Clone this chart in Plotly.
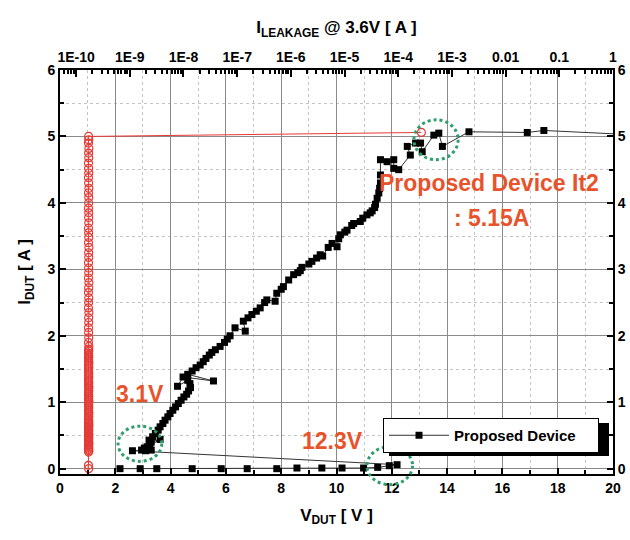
import plotly.graph_objects as go

# ---- data: TLP I-V of the proposed device (bottom V axis) ----
v_dut = [2.17, 2.90, 3.50, 4.78, 5.83, 6.77, 7.84, 8.57, 9.47, 10.20,
         10.98, 11.49, 11.91, 12.19, 2.62, 2.95, 3.10, 3.20, 3.30, 3.05,
         3.15, 3.25, 3.62, 3.30, 3.22, 3.35, 3.45, 3.55, 3.62, 3.72,
         3.80, 3.90, 3.98, 4.08, 4.18, 4.28, 4.38, 4.48, 4.58, 4.65,
         4.72, 4.70, 4.62, 4.25, 4.45, 5.55, 4.62, 4.78, 4.92, 5.07,
         5.18, 5.28, 5.40, 5.49, 5.62, 5.79, 5.95, 6.05, 6.15, 6.33,
         6.70, 6.63, 6.80, 6.94, 7.10, 7.24, 7.40, 7.48, 7.78, 7.84,
         8.00, 8.08, 8.27, 8.45, 8.60, 8.69, 8.75, 9.00, 9.11, 9.28,
         9.41, 9.50, 9.70, 9.84, 10.02, 10.08, 10.14, 10.30, 10.38, 10.55,
         10.62, 10.86, 10.95, 11.10, 11.22, 11.29, 11.38, 11.41, 11.47, 11.53,
         11.56, 11.59, 11.59, 11.59, 11.83, 12.07, 12.07, 12.25, 12.67, 12.56,
         12.86, 13.04, 13.10, 13.52, 13.70, 13.83, 14.79, 16.90, 17.50, 21.00]
i_dut = [0.00, 0.00, 0.00, 0.00, 0.00, 0.00, 0.00, 0.01, 0.01, 0.01,
         0.01, 0.02, 0.045, 0.06, 0.27, 0.28, 0.27, 0.29, 0.28, 0.31,
         0.33, 0.35, 0.44, 0.40, 0.43, 0.48, 0.53, 0.58, 0.63, 0.68,
         0.73, 0.78, 0.83, 0.88, 0.93, 0.98, 1.03, 1.08, 1.12, 1.17,
         1.22, 1.28, 1.33, 1.24, 1.38, 1.32, 1.42, 1.47, 1.52, 1.56,
         1.61, 1.66, 1.71, 1.75, 1.79, 1.84, 1.90, 1.95, 2.00, 2.12,
         2.07, 2.22, 2.27, 2.32, 2.37, 2.42, 2.50, 2.54, 2.52, 2.64,
         2.70, 2.74, 2.84, 2.92, 2.95, 2.98, 3.03, 3.08, 3.12, 3.17,
         3.22, 3.20, 3.33, 3.39, 3.34, 3.46, 3.52, 3.56, 3.59, 3.66,
         3.69, 3.72, 3.77, 3.82, 3.85, 3.88, 3.93, 3.98, 4.07, 4.15,
         4.22, 4.30, 4.42, 4.65, 4.62, 4.65, 4.52, 4.50, 4.72, 4.85,
         4.90, 4.90, 4.77, 5.02, 5.05, 4.85, 5.07, 5.06, 5.09, 5.02]

# ---- data: leakage current at 3.6 V after each pulse (top log axis) ----
leak_i = [0.00, 0.05, 0.25, 0.27, 0.29, 0.31, 0.33, 0.35, 0.37, 0.39,
          0.41, 0.43, 0.45, 0.47, 0.49, 0.51, 0.53, 0.55, 0.57, 0.59,
          0.61, 0.63, 0.65, 0.67, 0.69, 0.71, 0.73, 0.75, 0.78, 0.81,
          0.84, 0.87, 0.90, 0.93, 0.96, 0.99, 1.02, 1.05, 1.08, 1.11,
          1.14, 1.17, 1.20, 1.23, 1.26, 1.29, 1.32, 1.35, 1.38, 1.41,
          1.44, 1.47, 1.50, 1.53, 1.56, 1.59, 1.62, 1.65, 1.68, 1.71,
          1.74, 1.77, 1.80, 1.84, 1.90, 1.97, 2.05, 2.12, 2.20, 2.27,
          2.35, 2.42, 2.50, 2.57, 2.65, 2.72, 2.80, 2.87, 2.95, 3.02,
          3.10, 3.18, 3.25, 3.33, 3.40, 3.48, 3.55, 3.62, 3.70, 3.78,
          3.85, 3.92, 4.00, 4.08, 4.15, 4.22, 4.30, 4.38, 4.45, 4.52,
          4.60, 4.68, 4.75, 4.82, 4.90, 4.95, 5.00, 5.06]
leak_a = [1.72e-10, 1.70e-10, 1.71e-10, 1.73e-10, 1.70e-10, 1.72e-10, 1.71e-10, 1.70e-10, 1.73e-10, 1.71e-10,
          1.72e-10, 1.70e-10, 1.71e-10, 1.72e-10, 1.70e-10, 1.73e-10, 1.71e-10, 1.70e-10, 1.72e-10, 1.71e-10,
          1.70e-10, 1.72e-10, 1.71e-10, 1.73e-10, 1.70e-10, 1.72e-10, 1.71e-10, 1.70e-10, 1.72e-10, 1.71e-10,
          1.73e-10, 1.70e-10, 1.71e-10, 1.72e-10, 1.70e-10, 1.71e-10, 1.73e-10, 1.70e-10, 1.72e-10, 1.71e-10,
          1.70e-10, 1.72e-10, 1.71e-10, 1.73e-10, 1.70e-10, 1.72e-10, 1.71e-10, 1.70e-10, 1.72e-10, 1.71e-10,
          1.72e-10, 1.70e-10, 1.71e-10, 1.72e-10, 1.70e-10, 1.73e-10, 1.71e-10, 1.70e-10, 1.72e-10, 1.71e-10,
          1.70e-10, 1.72e-10, 1.71e-10, 1.73e-10, 1.70e-10, 1.72e-10, 1.71e-10, 1.70e-10, 1.72e-10, 1.71e-10,
          1.73e-10, 1.70e-10, 1.71e-10, 1.72e-10, 1.70e-10, 1.71e-10, 1.73e-10, 1.70e-10, 1.72e-10, 1.71e-10,
          1.70e-10, 1.72e-10, 1.71e-10, 1.73e-10, 1.70e-10, 1.72e-10, 1.71e-10, 1.70e-10, 1.72e-10, 1.71e-10,
          1.72e-10, 1.70e-10, 1.71e-10, 1.72e-10, 1.70e-10, 1.73e-10, 1.71e-10, 1.70e-10, 1.72e-10, 1.71e-10,
          1.70e-10, 1.72e-10, 1.71e-10, 1.73e-10, 1.70e-10, 1.72e-10, 1.71e-10, 2.70e-4]

top_tickvals = [1e-10, 1e-9, 1e-8, 1e-7, 1e-6, 1e-5, 1e-4, 1e-3, 1e-2, 1e-1, 1]
top_ticktext = ["1E-10", "1E-9", "1E-8", "1E-7", "1E-6", "1E-5", "1E-4", "1E-3", "0.01", "0.1", "1"]

X_RANGE = [0, 20]
Y_RANGE = [-0.08, 6.0]
LOG_RANGE = [-10.3, 0]

FONT = "Liberation Sans"
ORANGE = "#E8532B"
GREEN = "#2E9E6B"
RED = "#E53A35"

# plot-area geometry in pixels (used for paper-coordinate decorations)
W, H = 630, 540
ML, MR, MT, MB = 60, 17, 70, 66
PW, PH = W - ML - MR, H - MT - MB

fig = go.Figure()
fig.add_trace(go.Scatter(
    x=v_dut, y=i_dut, mode="lines+markers", name="Proposed Device\u00a0\u00a0\u00a0\u00a0",
    line=dict(color="#333333", width=1),
    marker=dict(symbol="square", size=7, color="black"),
    xaxis="x", yaxis="y", cliponaxis=True,
))
fig.add_trace(go.Scatter(
    x=leak_a, y=leak_i, mode="lines+markers", name="Leakage", showlegend=False,
    line=dict(color=RED, width=1),
    marker=dict(symbol="circle-open", size=8, color=RED, line=dict(width=1.2)),
    xaxis="x2", yaxis="y2",
))

minor_log = [m * 10.0 ** e for e in range(-11, 0) for m in range(2, 10)]

axis_common = dict(showline=True, linewidth=2, linecolor="black", mirror=False,
                   ticks="inside", tickcolor="black", tickwidth=1.5, zeroline=False,
                   automargin=False,
                   tickfont=dict(family=FONT, size=14, color="black", weight="bold"))
title_font = dict(family=FONT, size=17, color="black", weight="bold")

fig.update_layout(
    width=W, height=H,
    margin=dict(l=ML, r=MR, t=MT, b=MB),
    paper_bgcolor="white", plot_bgcolor="white",
    font=dict(family=FONT, color="black"),
    xaxis=dict(range=X_RANGE, dtick=2, tick0=0, ticklen=6,
               showgrid=True, gridcolor="#8a8a8a", gridwidth=1,
               minor=dict(dtick=1, ticks="inside", ticklen=4, tickcolor="black",
                          showgrid=True, gridcolor="#c4c4c4", griddash="dot"),
               title=dict(text="V<sub>DUT</sub> [ V ]", standoff=14, font=title_font),
               **axis_common),
    xaxis2=dict(type="log", range=LOG_RANGE, overlaying="x", side="top",
                tickvals=top_tickvals, ticktext=top_ticktext, ticklen=7,
                showgrid=False,
                minor=dict(tickvals=minor_log, ticks="inside", ticklen=4, tickcolor="black", showgrid=False),
                title=dict(text="I<sub>LEAKAGE</sub> @ 3.6V [ A ]", standoff=11, font=title_font),
                **axis_common),
    yaxis=dict(range=Y_RANGE, dtick=1, tick0=0, ticklen=6,
               showgrid=True, gridcolor="#8a8a8a", gridwidth=1,
               minor=dict(dtick=0.5, ticks="inside", ticklen=4, tickcolor="black",
                          showgrid=True, gridcolor="#c4c4c4", griddash="dot"),
               title=dict(text="I<sub>DUT</sub> [ A ]", standoff=12, font=title_font),
               **axis_common),
    yaxis2=dict(range=Y_RANGE, overlaying="y", side="right", dtick=1, tick0=0, ticklen=6,
                showgrid=False,
                minor=dict(dtick=0.5, ticks="inside", ticklen=4, tickcolor="black", showgrid=False),
                **axis_common),
    legend=dict(x=(383 - ML) / PW, y=(H - MB - 418) / PH, xanchor="left", yanchor="top",
                bgcolor="white", bordercolor="black", borderwidth=1,
                itemwidth=60,
                font=dict(family=FONT, size=15, color="black", weight="bold")),
    showlegend=True,
)


def px(v):
    return (v - X_RANGE[0]) / (X_RANGE[1] - X_RANGE[0])


def py(i):
    return (i - Y_RANGE[0]) / (Y_RANGE[1] - Y_RANGE[0])


# highlight circles (green dotted)
circles = [((2.10, 3.68), (0.11, 0.64)),
           ((11.10, 12.75), (-0.24, 0.33)),
           ((12.80, 14.40), (4.65, 5.25))]
shapes = []
for (xa, xb), (ya, yb) in circles:
    shapes.append(dict(type="circle", xref="paper", yref="paper",
                       x0=px(xa), x1=px(xb), y0=py(ya), y1=py(yb),
                       line=dict(color=GREEN, width=3, dash="dot"), layer="above"))
# legend drop shadow
shapes.append(dict(type="rect", xref="paper", yref="paper",
                   x0=(389 - ML) / PW, x1=(609 - ML) / PW,
                   y0=(H - MB - 456) / PH, y1=(H - MB - 423) / PH,
                   fillcolor="black", line=dict(width=0), layer="above"))
fig.update_layout(shapes=shapes)

notes = [("Proposed Device It2", 15.5, 4.30),
         (": 5.15A", 15.6, 3.77),
         ("3.1V", 2.89, 1.13),
         ("12.3V", 9.87, 0.41)]
for txt, xv, yv in notes:
    fig.add_annotation(x=xv, y=yv, xref="x", yref="y", text=txt, showarrow=False,
                       font=dict(family=FONT, size=23, color=ORANGE, weight="bold"))

fig.write_html("out.html", config={"displayModeBar": False},
               post_script="document.body.style.margin='0px';")
